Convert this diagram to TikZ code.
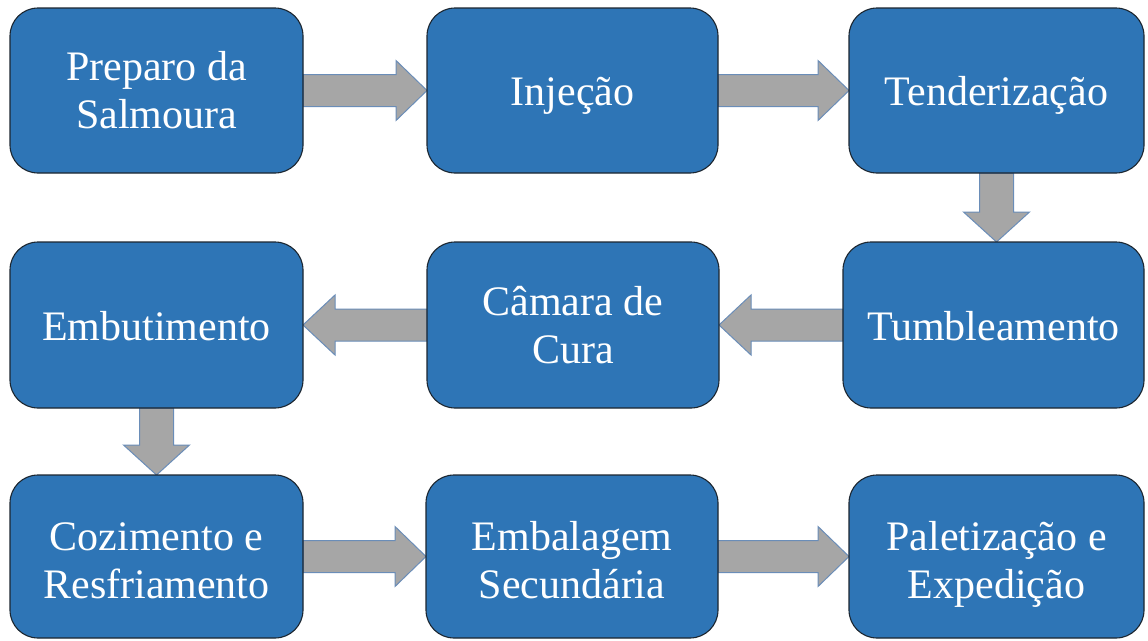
\documentclass[tikz,border=0pt]{standalone}
\usepackage{fontspec}
\setmainfont{Liberation Serif}
\usetikzlibrary{calc}
\definecolor{boxblue}{HTML}{2E75B6}
\definecolor{boxline}{HTML}{1C2630}
\definecolor{arrgray}{HTML}{A6A6A6}
\definecolor{arrline}{HTML}{6A8DB8}
\pgfdeclarelayer{bg}
\pgfsetlayers{bg,main}
\tikzset{
  stepbox/.style={draw=boxline, line width=1.1pt, fill=boxblue, rounded corners=28pt,
    text=white, align=center, inner sep=0pt, outer sep=0pt,
    font=\fontsize{42}{48}\selectfont},
  oneline/.style={text height=30pt, text depth=0pt},
  twoline/.style={text height=84pt, text depth=0pt},
  blockarrow/.style={draw=arrline, line width=1pt, fill=arrgray, line join=miter}
}
\newcommand{\arrR}[2]{\draw[blockarrow] ($(#1.east)+(0,-16)$) -- ($(#2.west)+(-31,-16)$) -- ($(#2.west)+(-31,-30)$) -- (#2.west) -- ($(#2.west)+(-31,30)$) -- ($(#2.west)+(-31,16)$) -- ($(#1.east)+(0,16)$) -- cycle;}
\newcommand{\arrL}[2]{\draw[blockarrow] ($(#1.west)+(0,-16)$) -- ($(#2.east)+(32,-16)$) -- ($(#2.east)+(32,-30)$) -- (#2.east) -- ($(#2.east)+(32,30)$) -- ($(#2.east)+(32,16)$) -- ($(#1.west)+(0,16)$) -- cycle;}
\newcommand{\arrD}[2]{\draw[blockarrow] ($(#1.south)+(-17,0)$) -- ($(#1.south|-#2.north)+(-17,-30)$) -- ($(#1.south|-#2.north)+(-33,-30)$) -- (#1.south|-#2.north) -- ($(#1.south|-#2.north)+(33,-30)$) -- ($(#1.south|-#2.north)+(17,-30)$) -- ($(#1.south)+(17,0)$) -- cycle;}
\begin{document}
\begin{tikzpicture}[x=1pt,y=-1pt]
\useasboundingbox (0,0) rectangle (1148,640);
% row 1
\node[stepbox, minimum width=293pt, minimum height=165pt] (a1) at (156.5,90.5) {Preparo da\\Salmoura};
\node[stepbox, oneline, minimum width=291pt, minimum height=165pt] (b1) at (572.5,90.5) {Injeção};
\node[stepbox, oneline, minimum width=295pt, minimum height=165pt] (c1) at (996.5,90.5) {Tenderização};
% row 2
\node[stepbox, oneline, minimum width=293pt, minimum height=166pt] (a2) at (156.5,325) {Embutimento};
\node[stepbox, minimum width=292pt, minimum height=166pt] (b2) at (573,325) {Câmara de\\Cura};
\node[stepbox, oneline, minimum width=301pt, minimum height=166pt] (c2) at (993.5,325) {Tumbleamento};
% row 3
\node[stepbox, twoline, minimum width=293pt, minimum height=163pt] (a3) at (156.5,556.5) {Cozimento e\\Resfriamento};
\node[stepbox, twoline, minimum width=292pt, minimum height=163pt] (b3) at (572,556.5) {Embalagem\\Secundária};
\node[stepbox, twoline, minimum width=295pt, minimum height=163pt] (c3) at (996.5,556.5) {Paletização e\\Expedição};
\begin{pgfonlayer}{bg}
\fill[white] (0,0) rectangle (1148,640);
\arrR{a1}{b1}
\arrR{b1}{c1}
\arrD{c1}{c2}
\arrL{c2}{b2}
\arrL{b2}{a2}
\arrD{a2}{a3}
\arrR{a3}{b3}
\arrR{b3}{c3}
\end{pgfonlayer}
\end{tikzpicture}
\end{document}
